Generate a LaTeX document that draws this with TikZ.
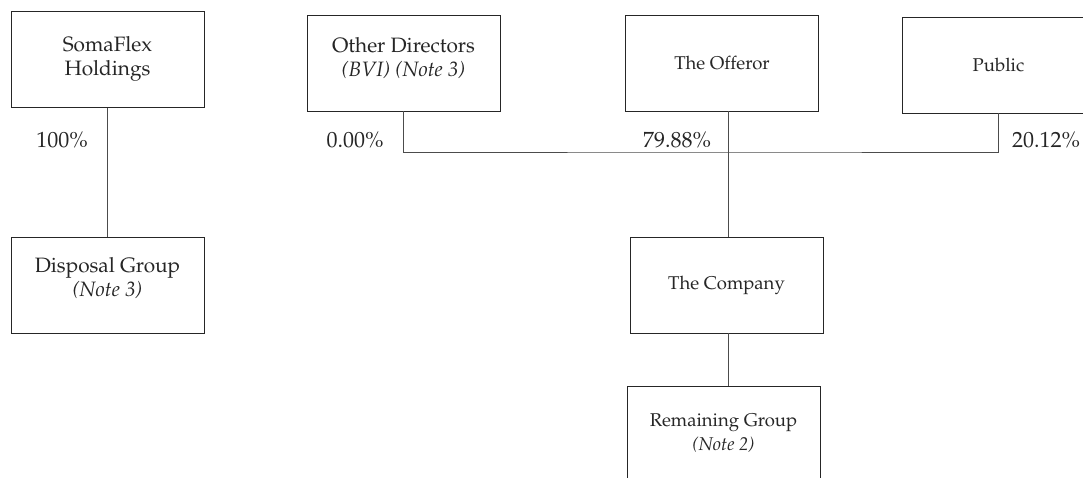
\documentclass[tikz,border=0pt]{standalone}
\usepackage[T1]{fontenc}
\usepackage{mathpazo}
\usetikzlibrary{calc}
\begin{document}
\begin{tikzpicture}[x=1pt,y=-1pt,
  box/.style={draw=black!85,line width=0.9pt,minimum width=193pt,minimum height=96pt,inner sep=0pt},
  txt/.style={align=center,inner sep=0pt,font=\fontsize{20.8}{24}\selectfont,text=black!85},
  stxt/.style={txt,font=\fontsize{18.5}{24}\selectfont},
  pct/.style={inner sep=0pt,font=\fontsize{22}{24}\selectfont,text=black!85},
  conn/.style={draw=black!70,line width=0.9pt}]
\useasboundingbox (0,0) rectangle (1083,477);
% boxes
\node[box] (soma) at (107.5,59.5) {};
\node[box] (disp) at (107.5,285) {};
\node[box] (od) at (403.5,63) {};
\node[box] (off) at (722,63) {};
\node[box] (pub) at (998.5,65) {};
\node[box] (comp) at (726.5,285) {};
\node[box] (rem) at (723.5,434) {};
% texts
\node[txt] (soma-t) at ($(soma)+(0,-1)$) {SomaFlex\\Holdings};
\node[txt] (disp-t) at ($(disp)+(0,-7)$) {Disposal Group\\\textit{(Note 3)}};
\node[txt] (od-t) at ($(od)+(0,-4.5)$) {Other Directors\\\textit{(BVI) (Note 3)}};
\node[stxt] (off-t) at (off) {The Offeror};
\node[stxt] (pub-t) at (pub) {Public};
\node[stxt] (comp-t) at (comp) {The Company};
\node[stxt] (rem-t) at ($(rem)+(0,-1)$) {Remaining Group\\\textit{(Note 2)}};
% connectors
\coordinate (bus) at (728,152);
\path[conn] (soma.south) -- (disp.north);
\path[conn] (od.south) |- (bus) -| (pub.south);
\path[conn] (comp.north -| bus) -- (off.south -| bus);
\path[conn] (comp.south -| bus) -- (rem.north -| bus);
% percentages
\node[pct] (p1) at (62,140) {100\%};
\node[pct] (p2) at (355,140) {0.00\%};
\node[pct] (p3) at (677,140) {79.88\%};
\node[pct,anchor=west] (p4) at (1012,140) {20.12\%};
\end{tikzpicture}
\end{document}
